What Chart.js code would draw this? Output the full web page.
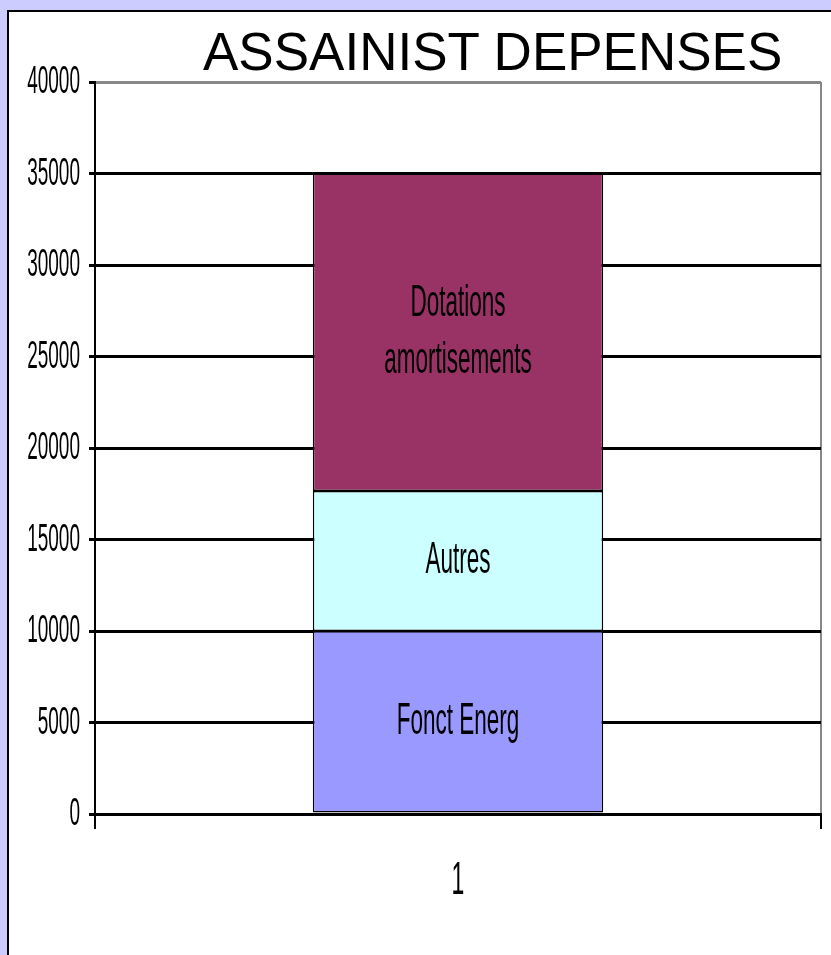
<!DOCTYPE html>
<html lang="fr">
<head>
  <meta charset="UTF-8" />
  <title>Assainist depenses</title>
  <script src="https://cdn.jsdelivr.net/npm/chart.js"></script>
  <style>
    * { margin: 0; padding: 0; box-sizing: border-box; }
    body {
      width: 831px;
      height: 955px;
      overflow: hidden;
      background: #ccccff;
      font-family: 'Liberation Sans', Arial, sans-serif;
      position: relative;
    }
    .panel {
      position: absolute;
      left: 7px;
      top: 10px;
      width: 900px;
      height: 1000px;
      background: #fff;
      border-left: 2px solid #000;
      border-top: 2px solid #000;
    }
    h1 {
      position: absolute;
      left: 203px;
      top: 25px;
      font-size: 53px;
      line-height: 53px;
      font-weight: normal;
      color: #000;
      white-space: nowrap;
    }
    #chart {
      position: absolute;
      left: 0;
      top: 0;
    }
  </style>
</head>
<body>
  <div class="panel"></div>
  <h1>ASSAINIST DEPENSES</h1>
  <canvas id="chart" width="831" height="955"></canvas>

  <script>
    // values
    const categories = ['1'];
    const seriesNames = ['Fonct Energ', 'Autres', 'Dotations amortisements'];
    const barLabels = [['Fonct Energ'], ['Autres'], ['Dotations', 'amortisements']];
    const fonctEnerg = [10000];
    const autres = [7650];
    const dotations = [17350];
    const barColors = ['#9999ff', '#ccffff', '#993366'];
    const yTicks = [0, 5000, 10000, 15000, 20000, 25000, 30000, 35000, 40000];

    const FONT = "'Liberation Sans', Arial, sans-serif";

    // the original text is squeezed horizontally, so draw it by hand
    function squeezed(ctx, text, x, y, size, align) {
      ctx.save();
      ctx.translate(x, y);
      ctx.scale(0.5, 1);
      ctx.font = size + 'px ' + FONT;
      ctx.fillStyle = '#000';
      ctx.textAlign = align;
      ctx.textBaseline = 'middle';
      ctx.fillText(text, 0, 0);
      ctx.restore();
    }

    const labelPlugin = {
      id: 'labels',
      afterDraw(chart) {
        const ctx = chart.ctx;
        const ys = chart.scales.y;
        const xs = chart.scales.x;
        yTicks.forEach(v => {
          squeezed(ctx, String(v), 80, ys.getPixelForValue(v) + 1, 38, 'right');
        });
        categories.forEach((c, i) => {
          squeezed(ctx, c, xs.getPixelForValue(i), 881, 46, 'center');
        });
        chart.data.datasets.forEach((ds, i) => {
          const bar = chart.getDatasetMeta(i).data[0];
          const mid = (bar.y + bar.base) / 2;
          const lines = barLabels[i];
          const gap = 57;
          lines.forEach((line, k) => {
            const y = mid + (k - (lines.length - 1) / 2) * gap;
            squeezed(ctx, line, bar.x, y, 45, 'center');
          });
        });
      }
    };

    const makeSet = (i, data) => ({
      label: seriesNames[i],
      data,
      backgroundColor: barColors[i],
      borderColor: '#000',
      borderWidth: 1.5,
      borderSkipped: false
    });

    new Chart(document.getElementById('chart'), {
      type: 'bar',
      data: {
        labels: categories,
        datasets: [makeSet(0, fonctEnerg), makeSet(1, autres), makeSet(2, dotations)]
      },
      options: {
        responsive: false,
        animation: false,
        layout: { padding: { top: 82, right: 10, left: 0, bottom: 0 } },
        plugins: {
          legend: { display: false },
          title: { display: false },
          tooltip: { enabled: false }
        },
        datasets: { bar: { categoryPercentage: 1, barPercentage: 0.4 } },
        scales: {
          x: {
            stacked: true,
            offset: true,
            afterFit: s => { s.height = 141; },
            ticks: { display: false },
            border: { display: true, color: '#000', width: 3 },
            grid: {
              offset: true,
              color: c => c.index === 0 ? '#000' : '#888',
              lineWidth: 2,
              tickColor: '#000',
              tickLength: 15
            }
          },
          y: {
            stacked: true,
            min: 0,
            max: 40000,
            afterFit: s => { s.width = 95; },
            ticks: { display: false, stepSize: 5000 },
            border: { display: true, color: '#000', width: 2 },
            grid: {
              color: c => c.tick && c.tick.value === 40000 ? '#888' : '#000',
              lineWidth: 3,
              tickColor: '#000',
              tickLength: 6
            }
          }
        }
      },
      plugins: [labelPlugin]
    });
  </script>
</body>
</html>
